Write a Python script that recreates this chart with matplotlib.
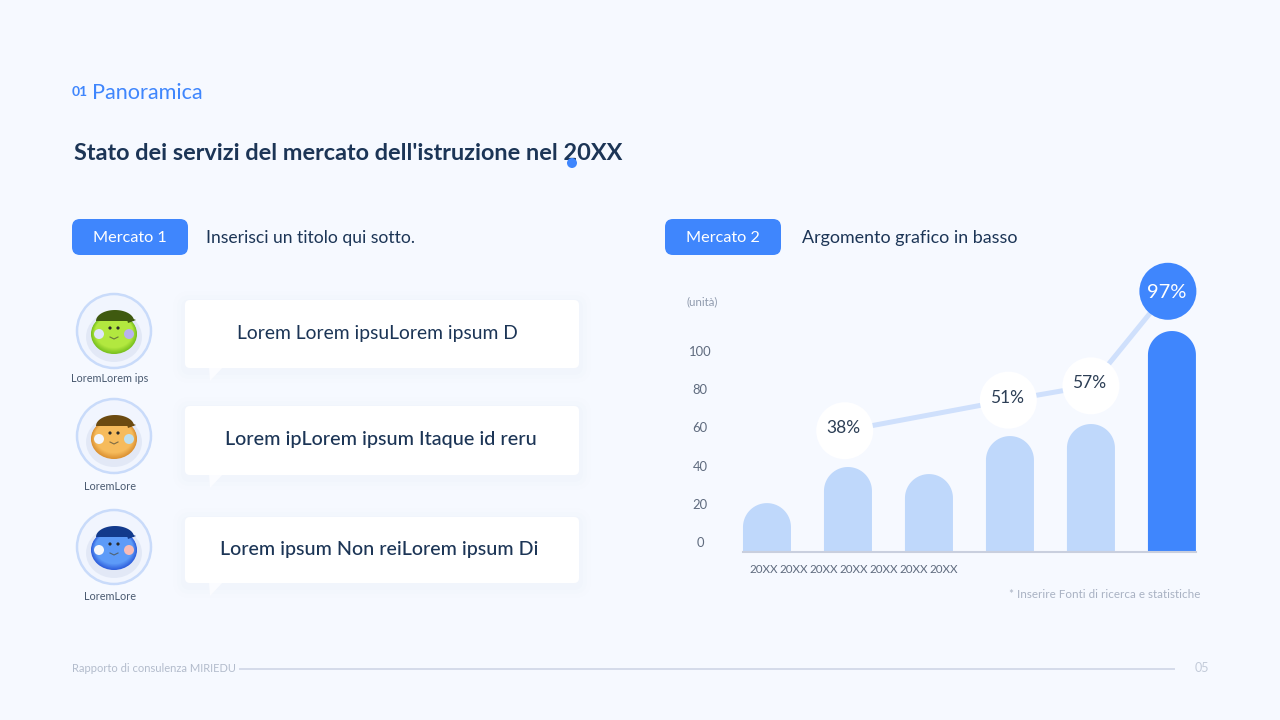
import numpy as np
import matplotlib
matplotlib.use('Agg')
import matplotlib.pyplot as plt
from matplotlib.colors import to_rgb
from matplotlib.patches import FancyBboxPatch, Circle, Ellipse, Polygon
from matplotlib.transforms import ScaledTranslation

plt.rcParams['font.family'] = ['Lato', 'DejaVu Sans']

# chart values
bar_values = [25.6, 44.5, 40.8, 60.7, 67, 115.7]
y_ticks = [0, 20, 40, 60, 80, 100]
year_labels = ['20XX'] * 7
line_x = [0.96, 2.98, 4.0, 4.95]
line_y = [63.5, 79.5, 87, 136.5]
line_labels = ['38%', '51%', '57%', '97%']

speech_texts = ['Lorem Lorem ipsuLorem ipsum D', 'Lorem ipLorem ipsum Itaque id reru', 'Lorem ipsum Non reiLorem ipsum Di']
avatar_names = ['LoremLorem ips', 'LoremLore', 'LoremLore']

BLUE = '#3f86fd'
LIGHT = '#bfd8fb'
NAVY = '#1c3556'
BG = '#f6f9ff'

fig = plt.figure(figsize=(12.8, 7.2), dpi=100, facecolor=BG)

# page layer in pixel coordinates
page = fig.add_axes([0, 0, 1, 1])
page.set_xlim(0, 1280)
page.set_ylim(720, 0)
page.axis('off')


def soft_shadow(x, y, w, h, r):
    for grow, a in zip([12, 8, 4], [0.006, 0.01, 0.014]):
        page.add_patch(FancyBboxPatch((x - grow, y - grow + 3), w + 2 * grow, h + 2 * grow,
                                      boxstyle='round,pad=0,rounding_size=%d' % (r + grow),
                                      fc='#8aa4d8', ec='none', alpha=a))


def pill(x, y, w, h, label):
    page.add_patch(FancyBboxPatch((x, y), w, h, boxstyle='round,pad=0,rounding_size=8', fc=BLUE, ec='none'))
    page.text(x + w / 2, y + h / 2 + 1, label, color='white', fontsize=11.7, ha='center', va='center')


def speech(y, h, label, size, cx, weight):
    soft_shadow(185, y, 394, h, 5)
    page.add_patch(Polygon([(209, y + h - 1), (223, y + h - 1), (210, y + h + 13)], fc='#fbfcff', ec='none'))
    page.add_patch(FancyBboxPatch((185, y), 394, h, boxstyle='round,pad=0,rounding_size=5', fc='white', ec='none'))
    page.text(cx, y + h / 2 - 0.5, label, color=NAVY, fontsize=size, ha='center', va='center', fontweight=weight)


def avatar(cy, body, dark, cap, cheek1, cheek2, name, name_y):
    cx = 114
    page.add_patch(Circle((cx, cy), 37, fc='#f1f5fe', ec='#c9dbfa', lw=1.8))
    page.add_patch(Ellipse((cx, cy + 6), 56, 50, fc='#a8b8da', ec='none', alpha=0.2))
    # body shading from the rim to the middle
    for t in np.linspace(0, 1, 9):
        col = np.array(to_rgb(dark)) * (1 - t) + np.array(to_rgb(body)) * t
        page.add_patch(Ellipse((cx, cy + 3 - 2 * t), 46 - 8 * t, 40 - 8 * t, fc=col, ec='none'))
    # flat cap with a short peak
    t = np.linspace(np.pi, 2 * np.pi, 30)
    page.add_patch(Polygon(np.c_[cx + 1 + 19 * np.cos(t), cy - 10 + 11 * np.sin(t)], fc=cap, ec='none'))
    page.add_patch(Polygon([(cx + 12, cy - 15), (cx + 22, cy - 11), (cx + 14, cy - 8)], fc=cap, ec='none'))
    page.add_patch(Circle((cx - 15, cy + 3), 5, fc=cheek1, ec='none'))
    page.add_patch(Circle((cx + 15, cy + 3), 5, fc=cheek2, ec='none'))
    page.add_patch(Circle((cx - 4, cy - 3), 1.6, fc='#2a2a2a', ec='none'))
    page.add_patch(Circle((cx + 4, cy - 3), 1.6, fc='#2a2a2a', ec='none'))
    page.plot([cx - 4, cx, cx + 4], [cy + 6, cy + 8, cy + 6], color='#4a4a3a', lw=0.8, alpha=0.7)
    page.text(110, name_y, name, color='#4a5a70', fontsize=7.8, ha='center', va='center')


# header
page.text(72, 92, '01', color=BLUE, fontsize=10, va='center', fontweight='bold')
page.text(92, 93, 'Panoramica', color=BLUE, fontsize=15.6, va='center')
page.text(74, 153, "Stato dei servizi del mercato dell'istruzione nel 20XX", color=NAVY, fontsize=16.9,
          va='center', fontweight='bold')
page.add_patch(Circle((572, 163), 5, fc=BLUE, ec='none', zorder=5))

pill(72, 219, 116, 36, 'Mercato 1')
page.text(206, 238.5, 'Inserisci un titolo qui sotto.', color=NAVY, fontsize=12.6, va='center')
pill(665, 219, 116, 36, 'Mercato 2')
page.text(802, 238.5, 'Argomento grafico in basso', color=NAVY, fontsize=12.85, va='center')

# left column
avatar(331, '#b2e83f', '#79c11f', '#3f5a10', '#dfe6fb', '#b9b2ee', avatar_names[0], 379)
avatar(436, '#f6bb5c', '#dc9233', '#6b4a10', '#f3f6fb', '#bfe0ef', avatar_names[1], 487)
avatar(547, '#5d9bf8', '#2f5fdc', '#123a8c', '#f5f7fb', '#f7bcb8', avatar_names[2], 596)
speech(300, 68, speech_texts[0], 13.85, 377.5, 'normal')
speech(406, 69, speech_texts[1], 14.2, 380.5, 'medium')
speech(517, 66, speech_texts[2], 14.1, 379.5, 'medium')

# footer
page.text(72, 669, 'Rapporto di consulenza MIRIEDU', color='#b3bccc', fontsize=8, va='center')
page.plot([240, 1174], [669, 669], color='#d5dbea', lw=1.4)
page.text(1195, 668, '05', color='#c3cbd9', fontsize=9, va='center')

# chart, 81 px per category and 1.91 px per unit
ax = fig.add_axes([720 / 1280, (720 - 552) / 720, 490 / 1280, 302 / 720])
ax.patch.set_alpha(0)
ax.set_xlim(-0.58, 5.47)
ax.set_ylim(0, 302 / 1.91)

bar_w = 48 / 81
radius_y = 24 / 1.91
theta = np.linspace(np.pi, 0, 40)
for i, v in enumerate(bar_values):
    arc_x = i + bar_w / 2 * np.cos(theta)
    arc_y = v - radius_y + radius_y * np.sin(theta)
    xs = np.r_[i - bar_w / 2, arc_x, i + bar_w / 2]
    ys = np.r_[0, arc_y, 0]
    ax.fill(xs, ys, color=BLUE if i == len(bar_values) - 1 else LIGHT, lw=0, zorder=2)

ax.plot(line_x, line_y, color='#cfe0fc', lw=3.6, zorder=3, clip_on=False)
colors = ['white', 'white', 'white', BLUE]
ax.scatter(line_x, line_y, s=(57 * 0.72) ** 2, c=colors, linewidths=0, zorder=4, clip_on=False)
for x, y, lab, c in zip(line_x, line_y, line_labels, colors):
    ax.text(x - 0.02, y + 1.3 if c == 'white' else y - 0.5, lab, ha='center', va='center',
            fontsize=12.5 if c == 'white' else 14.5,
            color='white' if c == BLUE else '#2c3e55', zorder=5)

for s in ['top', 'right', 'left']:
    ax.spines[s].set_visible(False)
ax.spines['bottom'].set_color('#c9cfde')
ax.spines['bottom'].set_linewidth(1.5)
ax.spines['bottom'].set_bounds(-0.296, 5.3)

ax.set_yticks(y_ticks)
ax.tick_params(axis='y', length=0, pad=14.4, labelsize=9.4, labelcolor='#5f6b7e')
for lab in ax.get_yticklabels():
    lab.set_ha('center')
    lab.set_transform(lab.get_transform() + ScaledTranslation(0, 0.10, fig.dpi_scale_trans))

ax.set_xticks(-0.04 + 0.37 * np.arange(len(year_labels)))
ax.set_xticklabels(year_labels)
ax.tick_params(axis='x', length=0, pad=8.5, labelsize=8.4, labelcolor='#5f6b7e')

page.text(702, 302, '(unità)', color='#8f9aad', fontsize=8.3, ha='center', va='center')
page.text(1200, 594, '* Inserire Fonti di ricerca e statistiche', color='#a9b2c3', fontsize=8.4, ha='right', va='center')

fig.savefig('out.png', dpi=100, facecolor=BG)
